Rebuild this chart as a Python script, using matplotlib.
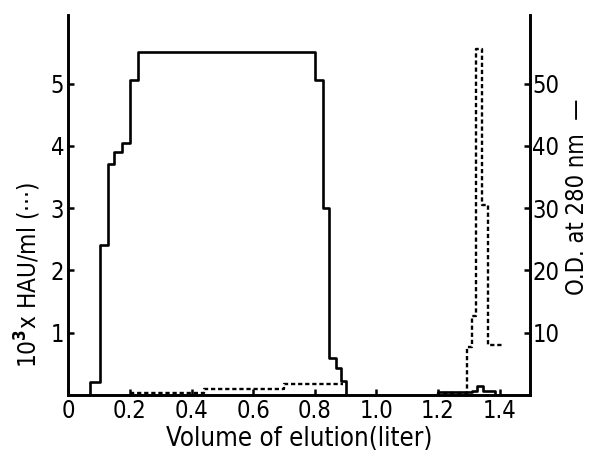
import matplotlib.pyplot as plt

plt.rcParams['font.family'] = ['DejaVu Sans']
plt.rcParams['font.stretch'] = 'condensed'

# O.D. at 280 nm (solid, right axis) - step data
od_x1 = [0.07, 0.102, 0.128, 0.148, 0.174, 0.200, 0.226, 0.800, 0.828, 0.845, 0.870, 0.886, 0.902]
od_y1 = [2.0, 24.0, 37.0, 39.0, 40.5, 50.5, 55.0, 50.5, 30.0, 6.0, 4.3, 2.3, 0.0]
od_x2 = [1.20, 1.31, 1.325, 1.345, 1.385]
od_y2 = [0.4, 0.6, 1.4, 0.6, 0.0]

# HAU/ml x 10^-3 (dotted, left axis) - step data
hau_x1 = [0.20, 0.44, 0.70, 0.893]
hau_y1 = [0.03, 0.10, 0.18, 0.18]
hau_x2 = [1.20, 1.293, 1.311, 1.322, 1.344, 1.362, 1.409]
hau_y2 = [0.03, 0.77, 1.26, 5.55, 3.05, 0.80, 0.80]

x_ticks = [0, 0.2, 0.4, 0.6, 0.8, 1.0, 1.2, 1.4]
x_labels = ['0', '0.2', '0.4', '0.6', '0.8', '1.0', '1.2', '1.4']
left_ticks = [1, 2, 3, 4, 5]
right_ticks = [10, 20, 30, 40, 50]

fig = plt.figure(figsize=(6, 4.55), dpi=100)
ax = fig.add_axes([0.114, 0.132, 0.770, 0.835])
ax2 = ax.twinx()

ax2.step([od_x1[0]] + od_x1, [0] + od_y1, where='post', color='black', lw=1.9)
ax2.step([od_x2[0]] + od_x2, [0] + od_y2, where='post', color='black', lw=1.9)

dash = (0, (1.8, 1.2))
ax.step(hau_x1, hau_y1, where='post', color='black', lw=1.7, linestyle=dash)
ax.step([hau_x2[0]] + hau_x2, [0] + hau_y2, where='post', color='black', lw=1.7, linestyle=dash)

ax.set_xlim(0, 1.5)
ax.set_ylim(0, 6.1)
ax2.set_ylim(0, 61)

ax.set_xticks(x_ticks)
ax.set_xticklabels(x_labels)
ax.set_yticks(left_ticks)
ax2.set_yticks(right_ticks)

for a in (ax, ax2):
    a.spines['top'].set_visible(False)
    for s in a.spines.values():
        s.set_linewidth(1.9)
    a.tick_params(direction='in', length=4, width=1.8, labelsize=17, pad=3)
ax2.tick_params(pad=1.5)

ax.set_xlabel('Volume of elution(liter)', fontsize=18.5, labelpad=2)
fig.text(0.046, 0.396, '10$^{\\mathbf{3}}$x HAU/ml (···)', rotation=90,
         ha='center', va='center', fontsize=17.5)
fig.text(0.962, 0.567, 'O.D. at 280 nm  —', rotation=90,
         ha='center', va='center', fontsize=17)

fig.savefig('out.png', dpi=100)
